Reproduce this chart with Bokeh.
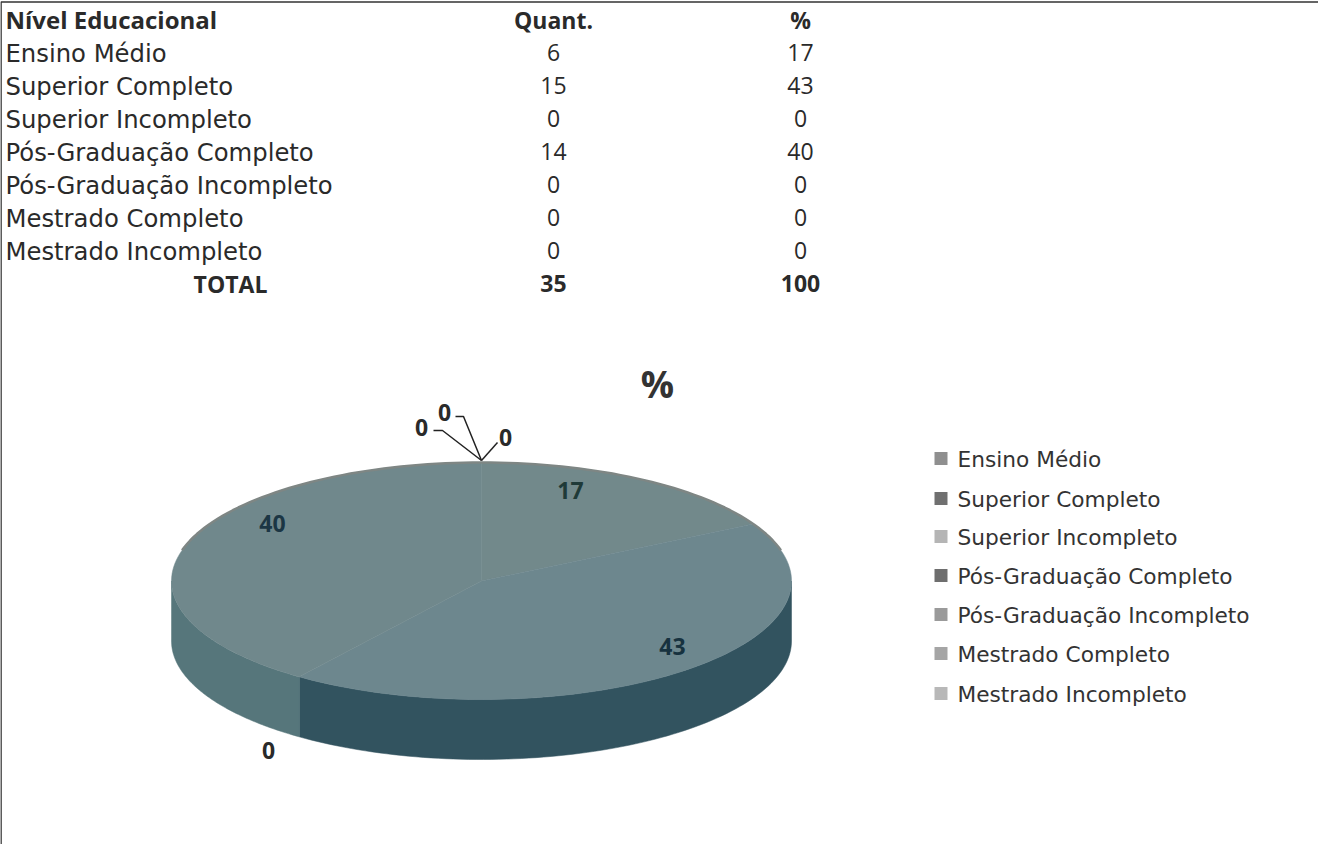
import math
from bokeh.plotting import figure
from bokeh.models import Range1d
from bokeh.core.properties import value
from bokeh.embed import file_html
from bokeh.resources import INLINE

title = "%"
header = ["Nível Educacional", "Quant.", "%"]
categories = ["Ensino Médio", "Superior Completo", "Superior Incompleto", "Pós-Graduação Completo",
              "Pós-Graduação Incompleto", "Mestrado Completo", "Mestrado Incompleto"]
quant = [6, 15, 0, 14, 0, 0, 0]
pct = [17, 43, 0, 40, 0, 0, 0]
total_label = "TOTAL"
total_quant = 35
total_pct = 100
top_colors = ["#72898b", "#6d878e", "#70888c", "#70888c", "#70888c", "#70888c", "#70888c"]
side_colors = ["#35505a", "#32535f", "#50696c", "#56767b", "#56767b", "#56767b", "#56767b"]
legend_colors = ["#8f8f8f", "#707070", "#b5b5b5", "#6e6e6e", "#9a9a9a", "#a5a5a5", "#b8b8b8"]

FONT = value("Open Sans")
BODY = value("DejaVu Sans")
INK = "#2a2a2a"
CX, CY, RX, RY, DEPTH = 489, 588.5, 310, 118.5, 60

p = figure(width=1318, height=844, output_backend="svg", toolbar_location=None,
           x_range=Range1d(8, 1326), y_range=Range1d(852, 8), min_border=0)
p.axis.visible = False
p.grid.visible = False
p.outline_line_color = None
p.background_fill_color = "#ffffff"

# frame of the sheet
p.line([1326, 8.5, 8.5], [9.5, 9.5, 852], line_color="#333333", line_width=1.6)

# table
def row_y(i):
    return 27 + i * 32.95

p.text([13], [row_y(0)], text=[header[0]], text_font=FONT, text_font_style="bold", text_font_size="24px",
       text_baseline="middle", text_color=INK)
p.text([561, 808], [row_y(0)] * 2, text=header[1:], text_font=FONT, text_font_style="bold", text_font_size="23px",
       text_align="center", text_baseline="middle", text_color=INK)
rows = list(range(1, len(categories) + 1))
p.text([13] * len(rows), [row_y(i) + 1 for i in rows], text=categories, text_font=BODY, text_font_size="24.3px",
       text_baseline="middle", text_color=INK)
p.text([561] * len(rows), [row_y(i) for i in rows], text=[str(v) for v in quant], text_font=FONT,
       text_font_size="23px", text_align="center", text_baseline="middle", text_color=INK)
p.text([808] * len(rows), [row_y(i) for i in rows], text=[str(v) for v in pct], text_font=FONT,
       text_font_size="23px", text_align="center", text_baseline="middle", text_color=INK)
tot = row_y(8) + 0.5
p.text([238, 561, 808], [tot] * 3, text=[total_label, str(total_quant), str(total_pct)], text_font=FONT,
       text_font_style="bold", text_font_size="23px", text_align="center", text_baseline="middle", text_color=INK)

# title
p.text([665], [391], text=[title], text_font=FONT, text_font_style="bold", text_font_size="37px",
       text_align="center", text_baseline="middle", text_color="#333333")

# pie, built from the percentages
def arc(a, b, n=90):
    return [a + (b - a) * k / n for k in range(n + 1)]

def px(t):
    return CX + RX * math.sin(t)

def py(t):
    return CY - RY * math.cos(t)

start = 0.0
sides, tops = [], []
for v, tc, sc in zip(pct, top_colors, side_colors):
    end = start + v / sum(pct) * 2 * math.pi
    if v:
        tops.append((start, end, tc))
        a, b = max(start, math.pi / 2), min(end, 3 * math.pi / 2)
        if b > a:
            sides.append((a, b, sc))
    start = end

for a, b, c in sides:
    ts = arc(a, b)
    xs = [px(t) for t in ts] + [px(t) for t in reversed(ts)]
    ys = [py(t) for t in ts] + [py(t) + DEPTH for t in reversed(ts)]
    p.patch(xs, ys, fill_color=c, line_color=c, line_width=0.5)
for a, b, c in tops:
    ts = arc(a, b)
    p.patch([CX] + [px(t) for t in ts], [CY] + [py(t) for t in ts], fill_color=c, line_color=c, line_width=0.5)
# grey rim along the back of the disc
ts = arc(-math.pi / 2.4, math.pi / 2.4)
p.line([px(t) for t in ts], [py(t) for t in ts], line_color="#7e8684", line_width=2.5)

# data labels
label_x = [578, 680, 276, 280, 429, 452, 513]
label_y = [498, 654, 758, 531, 435, 420, 445]
p.text(label_x, label_y, text=[str(v) for v in pct[:2]] + ["0"] + [str(pct[3])] + ["0", "0", "0"], text_font=FONT,
       text_font_style="bold", text_font_size="23px", text_align="center", text_baseline="middle",
       text_color=["#1f3a38", "#17323f", "#2a2a2a", "#1b3644", "#2a2a2a", "#2a2a2a", "#2a2a2a"])
p.line([441, 450, 489], [438, 438, 468], line_color="#222222", line_width=1.5)
p.line([463, 471, 489], [424, 424, 468], line_color="#222222", line_width=1.5)
p.line([505, 489], [450, 468], line_color="#222222", line_width=1.5)

# legend
leg_y = [466, 506, 544, 583, 622, 661, 701]
p.scatter([948.5] * 7, leg_y, marker="square", size=13, fill_color=legend_colors, line_color=None)
p.text([965] * 7, [y + 1 for y in leg_y], text=categories, text_font=BODY, text_font_size="21.7px",
       text_baseline="middle", text_color="#333333")

open("out.html", "w").write(file_html(p, INLINE))
